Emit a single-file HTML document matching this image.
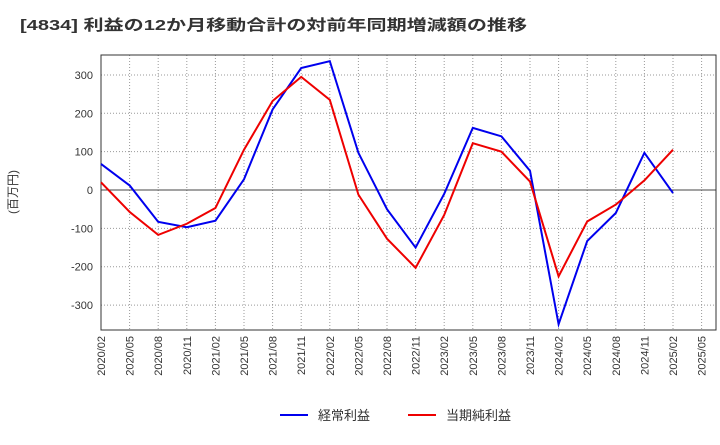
<!DOCTYPE html>
<html><head><meta charset="utf-8"><style>
body{margin:0;background:#fff;}
svg text{font-family:"Liberation Sans","Noto Sans CJK JP",sans-serif;}
</style></head><body>
<svg id="c" width="720" height="440" xmlns="http://www.w3.org/2000/svg">
<text x="20" y="30" font-size="15" font-weight="bold" fill="#333" textLength="507" lengthAdjust="spacingAndGlyphs">[4834]  利益の12か月移動合計の対前年同期増減額の推移</text>
<text transform="translate(17,192) rotate(-90)" font-size="12" text-anchor="middle" fill="#333">(百万円)</text>
<g id="grid"></g><g id="axes"></g><g id="series"></g>
<g>
<line x1="280" y1="415" x2="308" y2="415" stroke="#0000ee" stroke-width="2"/>
<text x="318" y="420" font-size="13" fill="#333">経常利益</text>
<line x1="408" y1="415" x2="436" y2="415" stroke="#ee0000" stroke-width="2"/>
<text x="446" y="420" font-size="13" fill="#333">当期純利益</text>
</g>
</svg>
<script>
const categories=["2020/02","2020/05","2020/08","2020/11","2021/02","2021/05","2021/08","2021/11","2022/02","2022/05","2022/08","2022/11","2023/02","2023/05","2023/08","2023/11","2024/02","2024/05","2024/08","2024/11","2025/02","2025/05"];
const ordinaryProfit=[68,12,-83,-97,-80,28,210,318,336,97,-50,-150,-10,162,140,50,-350,-133,-60,97,-8];
const netProfit=[20,-57,-117,-88,-47,105,232,295,235,-12,-127,-203,-65,122,100,22,-225,-82,-38,25,105];
const yTicks=[300,200,100,0,-100,-200,-300];
const L=101,R=716,T=55,B=330,yMax=352,yMin=-365,step=28.6;
const NS="http://www.w3.org/2000/svg";
const x=i=>L+i*step;
const y=v=>T+(yMax-v)/(yMax-yMin)*(B-T);
function mk(tag,attrs,parent,txt){const e=document.createElementNS(NS,tag);for(const k in attrs)e.setAttribute(k,attrs[k]);if(txt!==undefined)e.textContent=txt;document.getElementById(parent).appendChild(e);return e;}
categories.forEach((c,i)=>{
 const g=mk('line',{x1:x(i),x2:x(i),y1:T,y2:B,stroke:'#999','stroke-dasharray':'1,2','stroke-width':1},'grid');
 
 
 const t=mk('text',{transform:`translate(${x(i)+4},${B+6}) rotate(-90)`,'font-size':11,'text-anchor':'end',fill:'#333'},'axes',c);
 
 
});
yTicks.forEach(v=>{
 const g=mk('line',{x1:L,x2:R,y1:y(v),y2:y(v),stroke:v===0?'#444':'#999','stroke-dasharray':v===0?'':'1,2','stroke-width':1},'grid');
 
 
 const t=mk('text',{x:L-8,y:y(v)+4,'font-size':11,'text-anchor':'end',fill:'#333'},'axes',v);
 
 
});
const fr=mk('rect',{x:L,y:T,width:R-L,height:B-T,fill:'none',stroke:'#333','stroke-width':1},'axes');


function line(data,color,name){
 const p=mk('polyline',{points:data.map((v,i)=>x(i)+','+y(v)).join(' '),fill:'none',stroke:color,'stroke-width':2},'series');
 
 
}
line(ordinaryProfit,'#0000ee','ordinary-profit-line');
line(netProfit,'#ee0000','net-profit-line');
</script>
</body></html>
